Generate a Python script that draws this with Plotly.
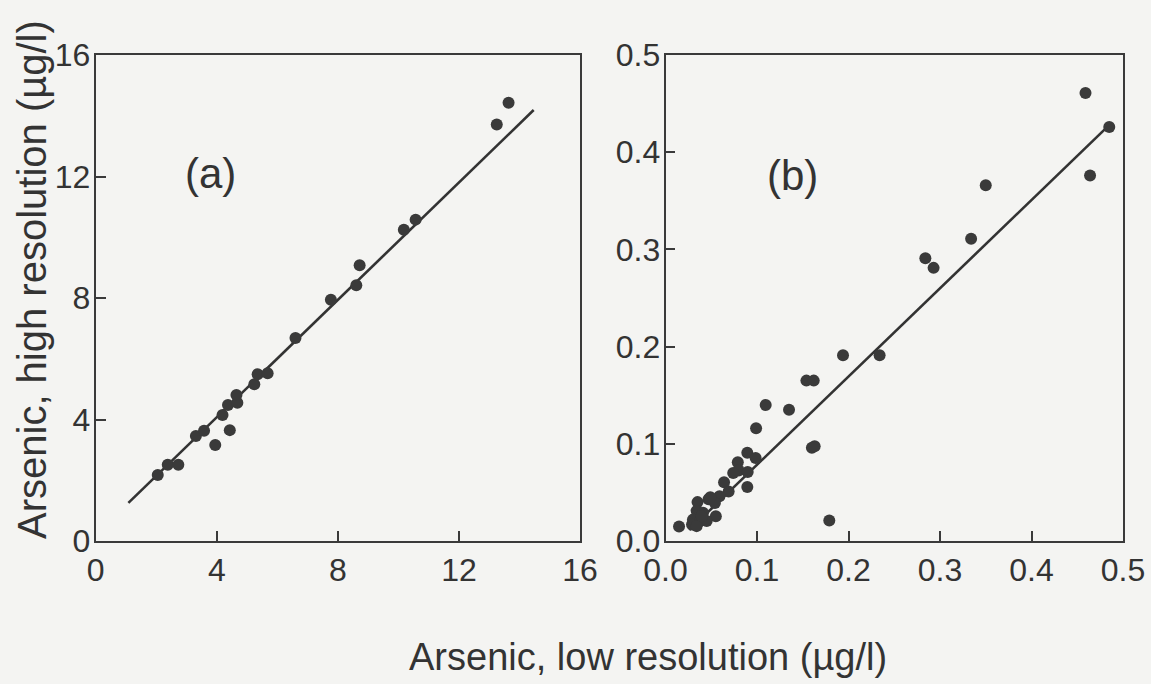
import plotly.graph_objects as go

# Panel (a) data (µg/l)
a_low = [2.05, 2.38, 2.73, 3.31, 3.58, 3.95, 4.43, 4.19, 4.37, 4.68, 4.65, 5.24, 5.35, 5.68,
         6.60, 7.77, 8.61, 8.72, 10.18, 10.57, 13.25, 13.64]
a_high = [2.17, 2.51, 2.51, 3.46, 3.63, 3.16, 3.65, 4.15, 4.48, 4.55, 4.81, 5.16, 5.49, 5.52,
          6.68, 7.94, 8.42, 9.08, 10.25, 10.58, 13.71, 14.43]
a_fit_x = [1.08, 14.47]
a_fit_slope = 0.966
a_fit_intercept = 0.21

# Panel (b) data (µg/l)
b_low = [0.459, 0.485, 0.464, 0.350, 0.334, 0.284, 0.293, 0.194, 0.234, 0.154, 0.162, 0.1095,
         0.135, 0.099, 0.160, 0.163, 0.179, 0.0148, 0.0894, 0.0894, 0.0985, 0.079, 0.080, 0.074,
         0.0898, 0.064, 0.069, 0.059, 0.047, 0.054, 0.035, 0.034, 0.041, 0.055, 0.030, 0.038,
         0.045, 0.029, 0.034, 0.0395, 0.049]
b_high = [0.461, 0.426, 0.376, 0.366, 0.311, 0.291, 0.281, 0.191, 0.191, 0.165, 0.165, 0.140,
          0.135, 0.116, 0.096, 0.0975, 0.021, 0.015, 0.0907, 0.0555, 0.0855, 0.081, 0.0725, 0.070,
          0.071, 0.0605, 0.051, 0.046, 0.043, 0.039, 0.040, 0.031, 0.029, 0.0255, 0.022, 0.0205,
          0.0205, 0.017, 0.0153, 0.0255, 0.045]
b_fit_x = [0.026, 0.486]
b_fit_slope = 0.908
b_fit_intercept = -0.0124

a_ticks = [0, 4, 8, 12, 16]
b_ticks = [0.0, 0.1, 0.2, 0.3, 0.4, 0.5]

FONT = "Liberation Sans, Arial, sans-serif"
INK = "#333333"
DOT = "#3a3a3a"
BG = "#f4f4f2"

fig = go.Figure()
fig.add_trace(go.Scatter(x=a_fit_x, y=[a_fit_slope * v + a_fit_intercept for v in a_fit_x],
                         mode="lines", line=dict(color=INK, width=2.6),
                         xaxis="x", yaxis="y", showlegend=False))
fig.add_trace(go.Scatter(x=a_low, y=a_high, mode="markers",
                         marker=dict(color=DOT, size=12),
                         xaxis="x", yaxis="y", showlegend=False))
fig.add_trace(go.Scatter(x=b_fit_x, y=[b_fit_slope * v + b_fit_intercept for v in b_fit_x],
                         mode="lines", line=dict(color=INK, width=2.6),
                         xaxis="x2", yaxis="y2", showlegend=False))
fig.add_trace(go.Scatter(x=b_low, y=b_high, mode="markers",
                         marker=dict(color=DOT, size=12),
                         xaxis="x2", yaxis="y2", showlegend=False))

axis_common = dict(showgrid=False, zeroline=False, showline=True, mirror=True,
                   automargin=False,
                   linecolor="#3a3a3a", linewidth=1.8, ticks="inside", ticklen=10,
                   tickwidth=1.6, tickcolor="#3a3a3a",
                   tickfont=dict(family=FONT, size=32, color=INK))

ydom = [(684 - 541) / 684, (684 - 55) / 684]
fig.update_layout(
    width=1151, height=684,
    margin=dict(l=0, r=0, t=0, b=0, pad=0),
    paper_bgcolor=BG, plot_bgcolor=BG,
    xaxis=dict(domain=[95.7 / 1151, 580 / 1151], range=[0, 16], tickvals=a_ticks,
               ticklabelstandoff=0, anchor="y", **axis_common),
    yaxis=dict(domain=ydom, range=[0, 16], tickvals=a_ticks, anchor="x",
               ticklabelstandoff=-3, **axis_common),
    xaxis2=dict(domain=[665.5 / 1151, 1123 / 1151], range=[0, 0.5], tickvals=b_ticks,
                tickformat=".1f", ticklabelstandoff=0, anchor="y2", **axis_common),
    yaxis2=dict(domain=ydom, range=[0, 0.5], tickvals=b_ticks, tickformat=".1f",
                anchor="x2", ticklabelstandoff=-3, **axis_common),
    annotations=[
        dict(text="(a)", x=3.8, y=12.1, xref="x", yref="y", showarrow=False,
             font=dict(family=FONT, size=42, color=INK)),
        dict(text="(b)", x=0.139, y=0.376, xref="x2", yref="y2", showarrow=False,
             font=dict(family=FONT, size=42, color=INK)),
        dict(text="Arsenic, low resolution (µg/l)", x=648 / 1151, y=(684 - 657) / 684,
             xref="paper", yref="paper", xanchor="center", yanchor="middle",
             showarrow=False, font=dict(family=FONT, size=38, color=INK)),
        dict(text="Arsenic, high resolution (µg/l)", x=32 / 1151, y=(684 - 280) / 684,
             xref="paper", yref="paper", xanchor="center", yanchor="middle",
             showarrow=False, textangle=-90,
             font=dict(family=FONT, size=40, color=INK)),
    ],
)

fig.write_html(
    "out.html",
    config={"responsive": False, "displayModeBar": False},
    post_script=(
        "document.documentElement.style.margin='0';"
        "document.body.style.margin='0';"
        "document.body.style.overflow='hidden';"
        "document.body.style.background='" + BG + "';"
    ),
)
